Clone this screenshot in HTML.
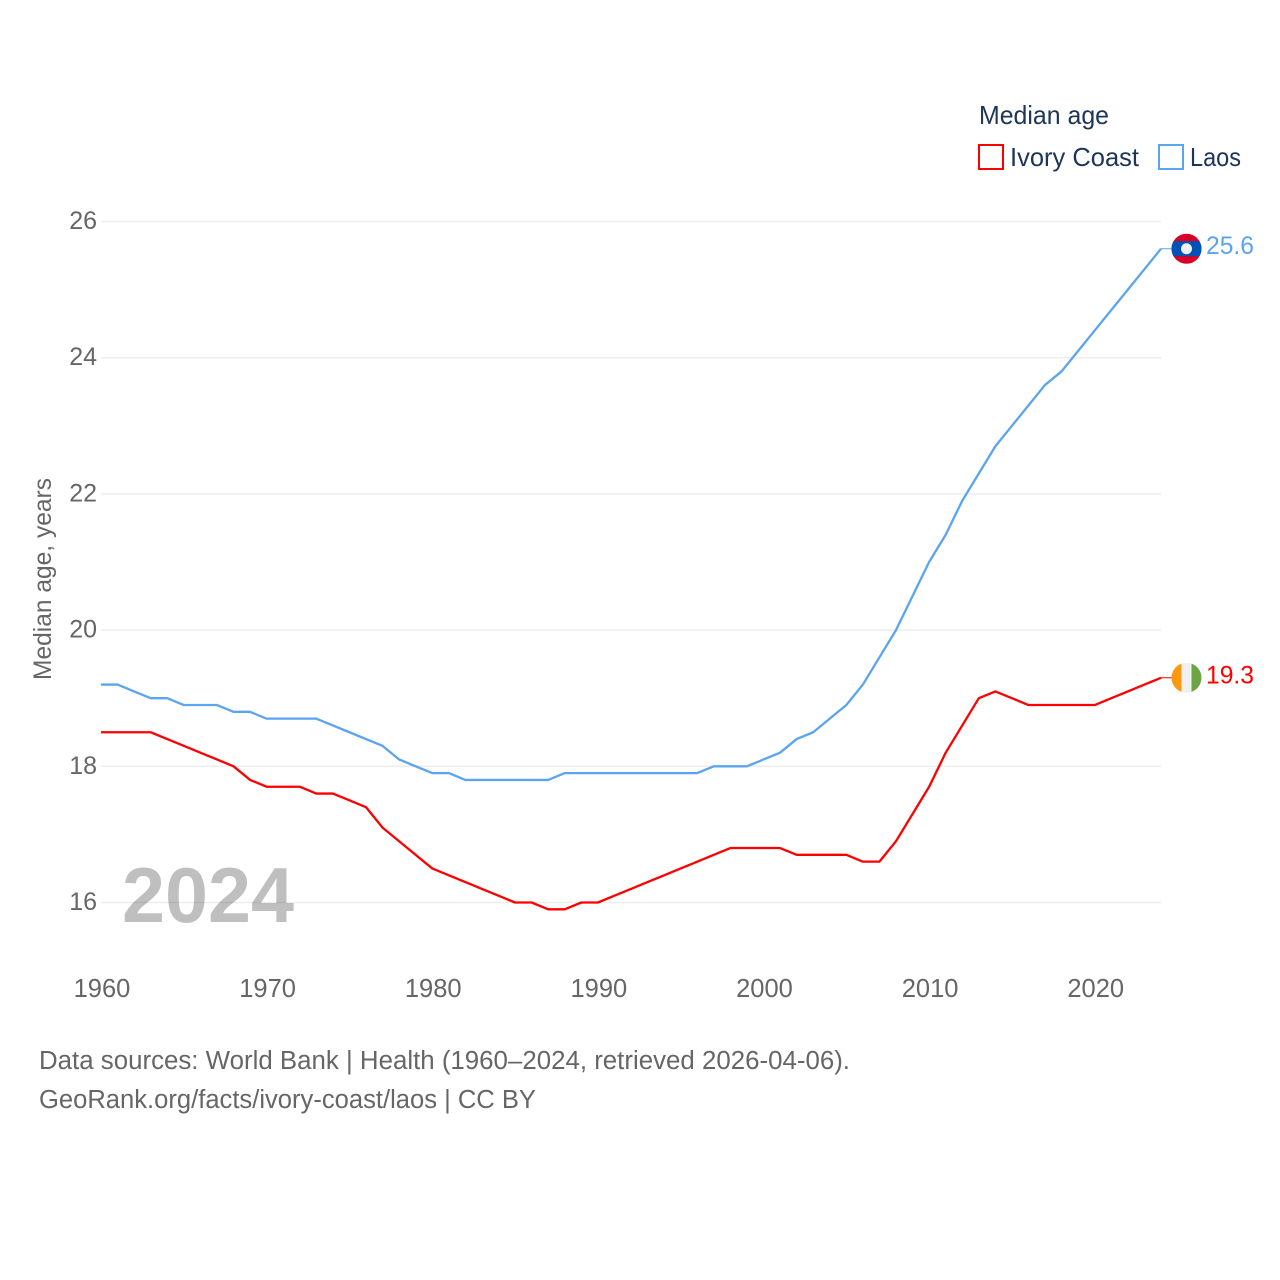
<!DOCTYPE html>
<html lang="en">
<head>
<meta charset="utf-8">
<title>Median age: Ivory Coast and Laos</title>
<style>
html, body { margin: 0; padding: 0; background: #fff; }
svg { display: block; }
text { font-family: "Liberation Sans", sans-serif; }
</style>
</head>
<body>
<svg id="chart" xmlns="http://www.w3.org/2000/svg" width="1280" height="1280" viewBox="0 0 1280 1280">
  <rect x="0" y="0" width="1280" height="1280" fill="#ffffff"/>
  <g id="grid"></g>
  <g id="y-ticks"></g>
  <g id="x-ticks"></g>
  <text transform="translate(51,680) rotate(-90)" font-size="25" fill="#666666" textLength="202" lengthAdjust="spacingAndGlyphs">Median age, years</text>
  <text x="122" y="922" font-size="78" font-weight="700" fill="#000000" fill-opacity="0.25" textLength="172" lengthAdjust="spacingAndGlyphs">2024</text>
  <g id="series"></g>
  <g id="laos-flag">
    <circle cx="0" cy="0" r="15" fill="#d80027"/>
    <clipPath id="laos-clip"><circle cx="0" cy="0" r="15"/></clipPath>
    <rect x="-15" y="-7.5" width="30" height="15" fill="#0052b4" clip-path="url(#laos-clip)"/>
    <circle cx="0" cy="0" r="5.5" fill="#f0f0f0"/>
  </g>
  <g id="ivory-flag">
    <clipPath id="ivory-clip"><circle cx="0" cy="0" r="15"/></clipPath>
    <g clip-path="url(#ivory-clip)">
      <rect x="-15" y="-15" width="10" height="30" fill="#ff9811"/>
      <rect x="-5" y="-15" width="10" height="30" fill="#f0f0f0"/>
      <rect x="5" y="-15" width="10" height="30" fill="#6da544"/>
    </g>
  </g>
  <text id="laos-value" x="1206" font-size="25" fill="#5ba4f0" textLength="48" lengthAdjust="spacingAndGlyphs"></text>
  <text id="ivory-value" x="1206" font-size="25" fill="#ff0000" textLength="48" lengthAdjust="spacingAndGlyphs"></text>

  <g>
    <text x="979" y="124" font-size="26" fill="#1d3557" textLength="130" lengthAdjust="spacingAndGlyphs">Median age</text>
    <rect x="979" y="145" width="24" height="24" fill="#ffffff" stroke="#ff0000" stroke-width="2"/>
    <text x="1010" y="166" font-size="26" fill="#1d3557" textLength="129" lengthAdjust="spacingAndGlyphs">Ivory Coast</text>
    <rect x="1159" y="145" width="24" height="24" fill="#ffffff" stroke="#5ba4f0" stroke-width="2"/>
    <text x="1190" y="166" font-size="26" fill="#1d3557" textLength="51" lengthAdjust="spacingAndGlyphs">Laos</text>
  </g>

  <text x="39" y="1069" font-size="25.5" fill="#666666" textLength="811" lengthAdjust="spacingAndGlyphs">Data sources: World Bank | Health (1960–2024, retrieved 2026-04-06).</text>
  <text x="39" y="1108" font-size="25.5" fill="#666666" textLength="497" lengthAdjust="spacingAndGlyphs">GeoRank.org/facts/ivory-coast/laos | CC BY</text>
</svg>
<script>
var years = [1960,1961,1962,1963,1964,1965,1966,1967,1968,1969,1970,1971,1972,1973,1974,1975,1976,1977,1978,1979,1980,1981,1982,1983,1984,1985,1986,1987,1988,1989,1990,1991,1992,1993,1994,1995,1996,1997,1998,1999,2000,2001,2002,2003,2004,2005,2006,2007,2008,2009,2010,2011,2012,2013,2014,2015,2016,2017,2018,2019,2020,2021,2022,2023,2024];
var ivoryCoast = [18.5,18.5,18.5,18.5,18.4,18.3,18.2,18.1,18.0,17.8,17.7,17.7,17.7,17.6,17.6,17.5,17.4,17.1,16.9,16.7,16.5,16.4,16.3,16.2,16.1,16.0,16.0,15.9,15.9,16.0,16.0,16.1,16.2,16.3,16.4,16.5,16.6,16.7,16.8,16.8,16.8,16.8,16.7,16.7,16.7,16.7,16.6,16.6,16.9,17.3,17.7,18.2,18.6,19.0,19.1,19.0,18.9,18.9,18.9,18.9,18.9,19.0,19.1,19.2,19.3];
var laos = [19.2,19.2,19.1,19.0,19.0,18.9,18.9,18.9,18.8,18.8,18.7,18.7,18.7,18.7,18.6,18.5,18.4,18.3,18.1,18.0,17.9,17.9,17.8,17.8,17.8,17.8,17.8,17.8,17.9,17.9,17.9,17.9,17.9,17.9,17.9,17.9,17.9,18.0,18.0,18.0,18.1,18.2,18.4,18.5,18.7,18.9,19.2,19.6,20.0,20.5,21.0,21.4,21.9,22.3,22.7,23.0,23.3,23.6,23.8,24.1,24.4,24.7,25.0,25.3,25.6];
var yTickValues = [16,18,20,22,24,26];
var xTickValues = [1960,1970,1980,1990,2000,2010,2020];

var SVG_NS = 'http://www.w3.org/2000/svg';
var xDomain = [1960, 2024], xRange = [101, 1161];
var yDomain = [16, 26], yRange = [902.5, 221.5];
function xScale(v) {
  return xRange[0] + (v - xDomain[0]) / (xDomain[1] - xDomain[0]) * (xRange[1] - xRange[0]);
}
function yScale(v) {
  return yRange[0] + (v - yDomain[0]) / (yDomain[1] - yDomain[0]) * (yRange[1] - yRange[0]);
}
function make(tag, attrs, parent) {
  var el = document.createElementNS(SVG_NS, tag);
  for (var k in attrs) el.setAttribute(k, attrs[k]);
  parent.appendChild(el);
  return el;
}

var gridGroup = document.getElementById('grid');
var yGroup = document.getElementById('y-ticks');
var xGroup = document.getElementById('x-ticks');
var seriesGroup = document.getElementById('series');

yTickValues.forEach(function (t) {
  var line = make('line', { x1: xRange[0], x2: xRange[1], y1: yScale(t), y2: yScale(t), stroke: '#eeeeee', 'stroke-width': 1.5 }, gridGroup);
  
  
  var label = make('text', { x: 97, y: yScale(t) + 7.5, 'text-anchor': 'end', 'font-size': 25, fill: '#666666' }, yGroup);
  
  
  label.textContent = String(t);
});

xTickValues.forEach(function (t) {
  var label = make('text', { x: xScale(t) + 1, y: 997, 'text-anchor': 'middle', 'font-size': 25.5, fill: '#666666' }, xGroup);
  
  
  label.textContent = String(t);
});

function drawSeries(values, color, key) {
  var pts = values.map(function (v, i) {
    return xScale(years[i]).toFixed(2) + ',' + yScale(v).toFixed(2);
  }).join(' ');
  var line = make('polyline', { points: pts, fill: 'none', stroke: color, 'stroke-width': 2.3, 'stroke-linejoin': 'round' }, seriesGroup);
  
  
  var lastY = yScale(values[values.length - 1]);
  var connector = make('line', { x1: xRange[1], x2: 1172, y1: lastY, y2: lastY, stroke: color, 'stroke-width': 1 }, seriesGroup);
  
  
  return lastY;
}

var laosEnd = drawSeries(laos, '#5ba4f0', 'laos');
var ivoryEnd = drawSeries(ivoryCoast, '#ff0000', 'ivory-coast');

document.getElementById('laos-flag').setAttribute('transform', 'translate(1186.5,' + laosEnd + ')');
document.getElementById('ivory-flag').setAttribute('transform', 'translate(1186.5,' + ivoryEnd + ')');

var laosValue = document.getElementById('laos-value');
laosValue.setAttribute('y', laosEnd + 5.5);
laosValue.textContent = laos[laos.length - 1].toFixed(1);
var ivoryValue = document.getElementById('ivory-value');
ivoryValue.setAttribute('y', ivoryEnd + 5.5);
ivoryValue.textContent = ivoryCoast[ivoryCoast.length - 1].toFixed(1);
</script>
</body>
</html>
